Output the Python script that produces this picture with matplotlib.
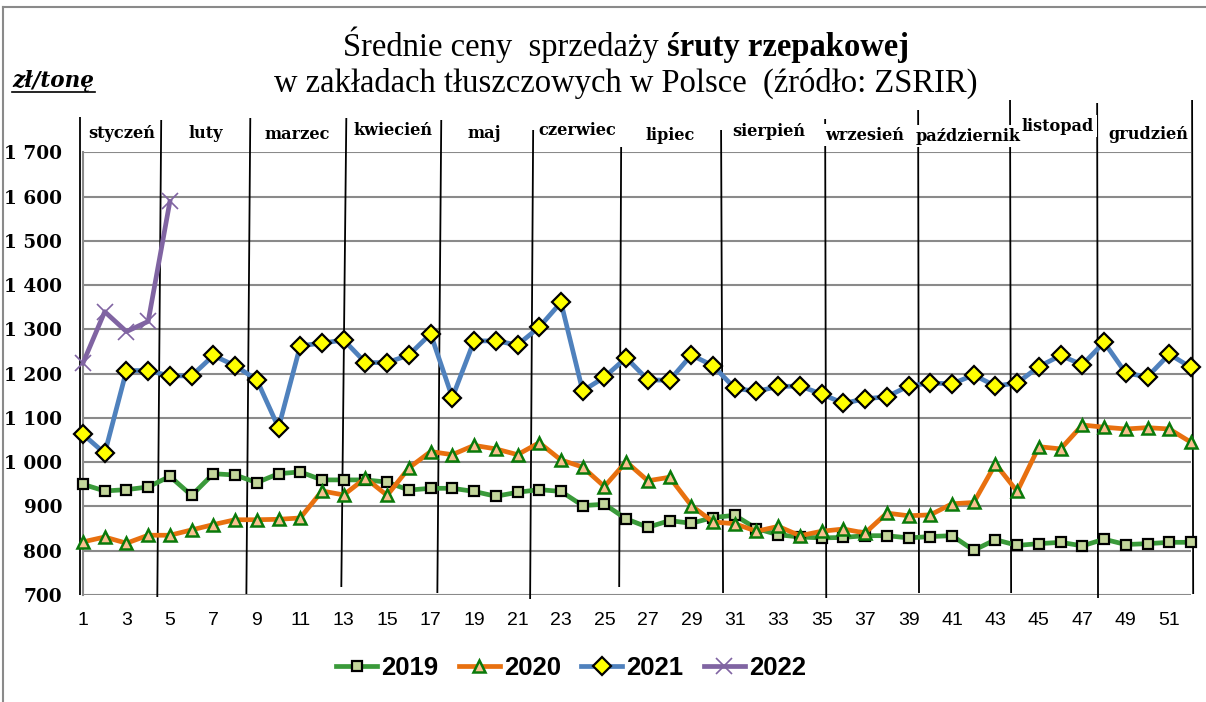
import matplotlib
matplotlib.use("Agg")
import matplotlib.pyplot as plt
from matplotlib.lines import Line2D
import numpy as np

W, H = 1206, 702

weeks = list(range(1, 53))

s2019 = [950, 935, 938, 944, 968, 925, 974, 971, 954, 974, 978, 960, 960,
         960, 955, 937, 941, 941, 934, 923, 932, 938, 934, 902, 905, 872,
         853, 868, 862, 875, 880, 850, 836, 831, 829, 830, 834, 834, 829,
         832, 834, 801, 825, 812, 816, 819, 811, 826, 814, 816, 819, 819]

s2020 = [820, 831, 817, 835, 835, 847, 859, 870, 870, 871, 874, 935, 926,
         964, 925, 987, 1024, 1017, 1038, 1030, 1017, 1044, 1005, 989, 945, 1001,
         958, 966, 902, 865, 861, 844, 855, 834, 844, 849, 840, 885, 879,
         881, 906, 909, 996, 934, 1035, 1030, 1084, 1079, 1075, 1078, 1075, 1045]

s2021 = [1063, 1020, 1207, 1207, 1195, 1195, 1241, 1218, 1186, 1078, 1263, 1269, 1276,
         1225, 1225, 1242, 1290, 1146, 1274, 1274, 1265, 1305, 1361, 1161, 1192, 1236,
         1186, 1185, 1242, 1218, 1167, 1160, 1171, 1172, 1154, 1133, 1143, 1148, 1172,
         1179, 1177, 1197, 1172, 1179, 1216, 1241, 1220, 1271, 1201, 1193, 1244, 1214]

s2022 = [1224, 1340, 1295, 1318, 1589]

months = ["styczeń", "luty", "marzec", "kwiecień", "maj", "czerwiec", "lipiec",
          "sierpień", "wrzesień", "październik", "listopad", "grudzień"]

xtick_labels = [str(w) for w in range(1, 53, 2)]
ytick_values = list(range(700, 1800, 100))
ytick_labels = [f"{v // 1000} {v % 1000:03d}" if v >= 1000 else str(v) for v in ytick_values]

# layout (positions of hand-drawn month separators / labels, in week units)
sep_top_w = [0.88, 4.60, 8.70, 13.12, 17.49, 21.72, 25.77, 30.37, 35.16, 39.44, 43.67, 47.68, 52.05]
sep_bot_w = [0.88, 4.42, 8.52, 12.89, 17.31, 21.58, 25.68, 30.46, 35.21, 39.48, 43.72, 47.72, 52.10]
sep_top_px = [117, 120, 118, 118, 120, 130, 147, 130, 119, 110, 100, 103, 100]
sep_bot_px = [595, 597, 594, 587, 593, 599, 587, 593, 598, 593, 593, 598, 594]
lab_x_w = [2.76, 6.63, 10.86, 15.28, 19.47, 23.75, 28.03, 32.58, 36.96, 41.72, 45.88, 50.02]
lab_y_px = [133, 133, 134, 130, 133, 130, 135, 131, 135, 136, 126, 134]

fig = plt.figure(figsize=(W / 100, H / 100), dpi=100)
ax_l, ax_r, ax_t, ax_b = 83, 1191, 152.3, 595
ax = fig.add_axes([ax_l / W, 1 - ax_b / H, (ax_r - ax_l) / W, (ax_b - ax_t) / H])
ax.set_xlim(1, 52)
ax.set_ylim(700, 1700)

grid_c = "#8a8a8a"
for v in ytick_values:
    ax.axhline(v, color=grid_c, lw=1.5, zorder=1)
for s in ["top", "right", "bottom"]:
    ax.spines[s].set_visible(False)
ax.spines["left"].set_color(grid_c)
ax.spines["left"].set_linewidth(1.5)

ax.set_xticks(range(1, 53, 2))
ax.set_xticklabels(xtick_labels, fontsize=14, family="Liberation Sans")
ax.set_yticks(ytick_values)
ax.set_yticklabels(ytick_labels, fontsize=13.3, family="DejaVu Serif", weight="bold")
ax.tick_params(axis="x", length=0, pad=12.5)
ax.tick_params(axis="y", length=0, pad=15)

def px2val(py):
    return 700 + (ax_b - py) * 1000 / (ax_b - ax_t)

# month separators
for wt, wb, pt, pb in zip(sep_top_w, sep_bot_w, sep_top_px, sep_bot_px):
    ax.plot([wt, wb], [px2val(pt), px2val(pb)], color="black", lw=1.3,
            clip_on=False, zorder=2, solid_capstyle="butt")

# month labels
for name, xw, py in zip(months, lab_x_w, lab_y_px):
    ax.text(xw, (ax_b - py) / (ax_b - ax_t), name, transform=ax.get_xaxis_transform(),
            ha="center", va="center", fontsize=11.6, family="DejaVu Serif",
            weight="bold", zorder=5,
            bbox=dict(boxstyle="square,pad=0.15", fc="white", ec="none"))

c2019, c2020, c2021, c2022 = "#3a9a3a", "#e8700f", "#4f81bd", "#8064a2"
lw = 3.4
l19, = ax.plot(weeks, s2019, color=c2019, lw=lw, marker="s", ms=7, mfc="#c3d69b",
               mec="black", mew=1.6, zorder=6, clip_on=False)
l20, = ax.plot(weeks, s2020, color=c2020, lw=lw, marker="^", ms=9, mfc="#fac090",
               mec="#0a7a0a", mew=1.8, zorder=7, clip_on=False)
l21, = ax.plot(weeks, s2021, color=c2021, lw=lw, marker="D", ms=9.3, mfc="#ffff00",
               mec="black", mew=1.6, zorder=8, clip_on=False)
l22, = ax.plot(weeks[:len(s2022)], s2022, color=c2022, lw=lw, marker="x", ms=12,
               mec=c2022, mew=1.2, zorder=9, clip_on=False)

leg = fig.legend([l19, l20, l21, l22], ["2019", "2020", "2021", "2022"],
                 loc="center", bbox_to_anchor=(571 / W, 1 - 668 / H), ncol=4,
                 frameon=False, numpoints=1, handlelength=1.6, handletextpad=0.15,
                 columnspacing=0.8,
                 prop=dict(family="Liberation Sans", weight="bold", size=18.5))

# y unit label
fig.text(12 / W, 1 - 87 / H, "zł/tonę", fontsize=15.5, family="DejaVu Serif",
         weight="bold", style="italic", ha="left", va="baseline")
fig.add_artist(Line2D([12 / W, 95 / W], [1 - 92 / H, 1 - 92 / H], color="black", lw=1.2))

# title (mixed weights on line 1)
fig.canvas.draw()
r = fig.canvas.get_renderer()
tfont = dict(fontsize=23.5, family="Liberation Serif", va="baseline")
t1 = fig.text(0, 1 - 56 / H, "Średnie ceny  sprzedaży ", **tfont)
t2 = fig.text(0, 1 - 56 / H, "śruty rzepakowej", weight="bold", **tfont)
w1 = t1.get_window_extent(r).width
w2 = t2.get_window_extent(r).width
x0 = 626 - (w1 + w2) / 2
t1.set_x(x0 / W)
t2.set_x((x0 + w1) / W)
fig.text(626 / W, 1 - 92 / H, "w zakładach tłuszczowych w Polsce  (źródło: ZSRIR)",
         ha="center", **tfont)

# outer frame
fig.add_artist(Line2D([3 / W, 1], [1 - 7 / H, 1 - 7 / H], color="#8a8a8a", lw=1.5))
fig.add_artist(Line2D([3 / W, 3 / W], [0, 1 - 7 / H], color="#8a8a8a", lw=1.5))

fig.savefig("out.png", dpi=100)
